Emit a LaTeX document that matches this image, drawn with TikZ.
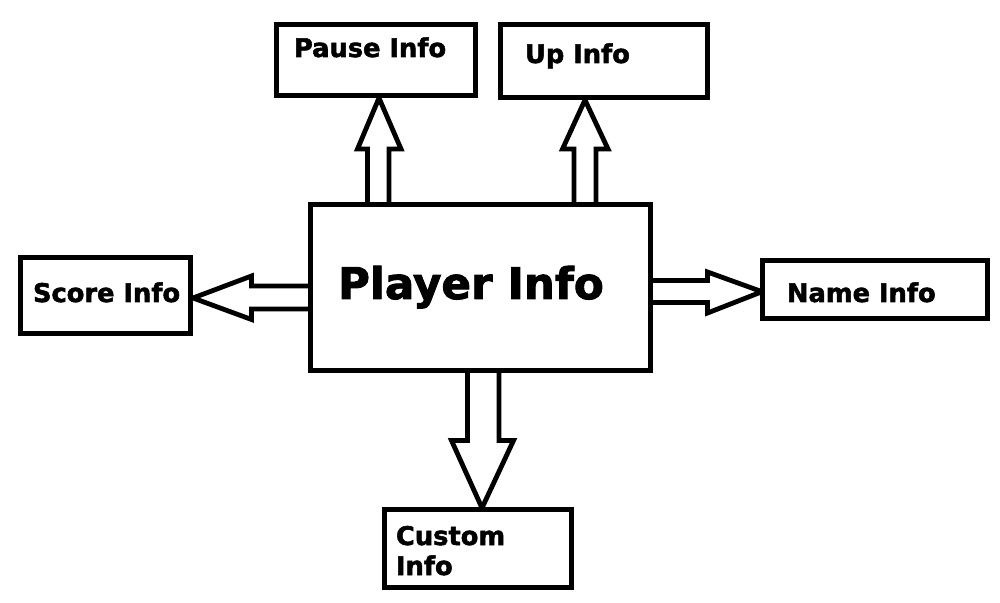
\documentclass[tikz,border=0pt]{standalone}
\usepackage{fontspec}
\setmainfont{DejaVu Sans}[BoldFeatures={FakeBold=2}]
\begin{document}
\begin{tikzpicture}[x=0.5pt,y=-0.5pt,
  box/.style={draw=black,line width=2.5pt,fill=white,inner sep=0pt,outer sep=0pt,anchor=north west},
  lbl/.style={font=\bfseries\fontsize{12.85pt}{15pt}\selectfont,anchor=base west,inner sep=0pt,outer sep=0pt},
  blockarrow/.style={draw=black,line width=2.4pt,fill=white,line join=miter,miter limit=10}]
\useasboundingbox[fill=white] (0,0) rectangle (1000,603);

% block arrows (drawn first, boxes over them)
\draw[blockarrow] (367.5,205) -- (367.5,149) -- (357.5,149) -- (379,98) -- (401,149) -- (389,149) -- (389,205);
\draw[blockarrow] (574,205) -- (574,149) -- (562.5,149) -- (585,100) -- (608,149) -- (596,149) -- (596,205);
\draw[blockarrow] (310.5,286) -- (251.5,286) -- (251.5,276) -- (193,298) -- (251.5,319.5) -- (251.5,309) -- (310.5,309);
\draw[blockarrow] (650.5,280.5) -- (707.5,280.5) -- (707.5,272) -- (762,291.7) -- (707.5,313) -- (707.5,302.5) -- (650.5,302.5);
\draw[blockarrow] (467.5,371) -- (467.5,440.5) -- (451.5,440.5) -- (482,508) -- (513.5,440.5) -- (499,440.5) -- (499,371);

% boxes (corner at line centre)
\node[box,minimum width=99.5pt,minimum height=35.5pt] (pause) at (276.5,25) {};
\node[box,minimum width=103.75pt,minimum height=36.5pt] (up) at (500,25) {};
\node[box,minimum width=170pt,minimum height=83pt] (player) at (310.5,205) {};
\node[box,minimum width=85pt,minimum height=38.25pt] (score) at (20.5,257.5) {};
\node[box,minimum width=112.5pt,minimum height=29.25pt] (name) at (762.5,260.5) {};
\node[box,minimum width=93.5pt,minimum height=38.75pt] (custom) at (384.5,509.5) {};

% labels
\node[lbl] (tpause) at (294,57) {Pause Info};
\node[lbl] (tup) at (525,63) {Up Info};
\node[lbl,font=\bfseries\fontsize{21.8pt}{26pt}\selectfont] (tplayer) at (338,299) {Player Info};
\node[lbl] (tscore) at (33,302) {Score Info};
\node[lbl] (tname) at (787,302) {Name Info};
\node[lbl] (tcustom1) at (396,545) {Custom};
\node[lbl] (tcustom2) at (396,575) {Info};
\end{tikzpicture}
\end{document}
